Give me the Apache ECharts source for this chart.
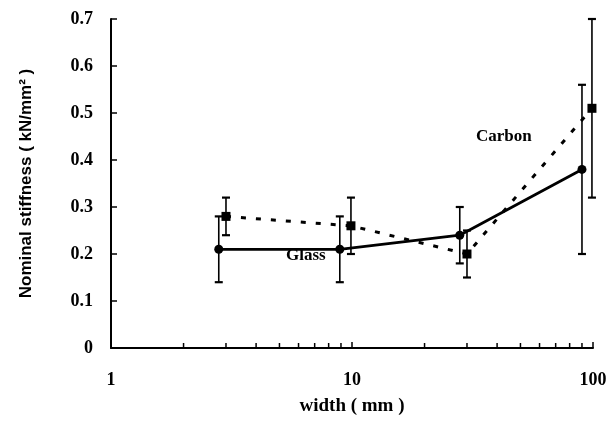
<!DOCTYPE html>
<html>
<head>
<meta charset="utf-8">
<script src="https://cdn.jsdelivr.net/npm/echarts@6/dist/echarts.min.js"></script>
<style>
  html, body { margin: 0; padding: 0; background: #fff; }
  #chart { width: 611px; height: 425px; }
</style>
</head>
<body>
<div id="chart"></div>
<script>
// width (mm) and stiffness values
var glassX = [2.8, 8.9, 28, 90];
var glassY = [0.21, 0.21, 0.24, 0.38];
var glassErr = [0.07, 0.07, 0.06, 0.18];

var carbonX = [3.0, 9.9, 30, 99];
var carbonY = [0.28, 0.26, 0.20, 0.51];
var carbonErr = [0.04, 0.06, 0.05, 0.19];

var minorTicks = [2, 3, 4, 5, 6, 7, 8, 9, 20, 30, 40, 50, 60, 70, 80, 90];

var serif = '"Liberation Serif", "DejaVu Serif", serif';

function pairs(xs, ys) {
  return xs.map(function (x, i) { return [x, ys[i]]; });
}
function errData(xs, ys, es) {
  return xs.map(function (x, i) { return [x, ys[i], es[i]]; });
}

// error bar: vertical line with small caps
function renderErr(params, api) {
  var x = api.value(0), y = api.value(1), e = api.value(2);
  var lo = api.coord([x, y - e]);
  var hi = api.coord([x, y + e]);
  var w = 4;
  var cap = { stroke: '#000', lineWidth: 2.2 };
  return {
    type: 'group',
    children: [
      { type: 'line', shape: { x1: lo[0], y1: lo[1], x2: hi[0], y2: hi[1] }, style: { stroke: '#000', lineWidth: 1.6 } },
      { type: 'line', shape: { x1: lo[0] - w, y1: lo[1], x2: lo[0] + w, y2: lo[1] }, style: cap },
      { type: 'line', shape: { x1: hi[0] - w, y1: hi[1], x2: hi[0] + w, y2: hi[1] }, style: cap }
    ]
  };
}

// minor ticks on the log x axis, pointing up
function renderTick(params, api) {
  var p = api.coord([api.value(0), 0]);
  return {
    type: 'line',
    shape: { x1: p[0], y1: p[1], x2: p[0], y2: p[1] - 5 },
    style: { stroke: '#000', lineWidth: 1.5 }
  };
}

var chart = echarts.init(document.getElementById('chart'));

var option = {
  animation: false,
  backgroundColor: '#fff',
  grid: { left: 111, right: 18, top: 19, bottom: 77 },
  xAxis: {
    type: 'log',
    logBase: 10,
    min: 1,
    max: 100,
    name: 'width ( mm )',
    nameLocation: 'middle',
    nameGap: 49,
    nameTextStyle: { fontFamily: serif, fontWeight: 'bold', fontSize: 19, color: '#000' },
    axisLine: { lineStyle: { color: '#000', width: 2 } },
    axisTick: { inside: true, length: 6, lineStyle: { color: '#000', width: 1.5 } },
    minorTick: { show: false },
    splitLine: { show: false },
    axisLabel: { margin: 23, fontFamily: serif, fontWeight: 'bold', fontSize: 18, color: '#000' }
  },
  yAxis: {
    type: 'value',
    min: 0,
    max: 0.7,
    interval: 0.1,
    name: 'Nominal stiffness ( kN/mm² )',
    nameLocation: 'middle',
    nameGap: 76,
    nameTextStyle: { fontFamily: '"Liberation Sans", Arial, sans-serif', fontWeight: 'bold', fontSize: 17, color: '#000' },
    axisLine: { show: true, lineStyle: { color: '#000', width: 2 } },
    axisTick: { show: true, inside: true, length: 6, lineStyle: { color: '#000', width: 1.5 } },
    splitLine: { show: false },
    axisLabel: {
      margin: 18,
      fontFamily: serif,
      fontWeight: 'bold',
      fontSize: 18,
      color: '#000',
      formatter: function (v) { return v === 0 ? '0' : v.toFixed(1); }
    }
  },
  graphic: [
    { type: 'text', left: 286, top: 247, style: { text: 'Glass', font: 'bold 17px ' + serif, fill: '#000' } },
    { type: 'text', left: 476, top: 128, style: { text: 'Carbon', font: 'bold 17px ' + serif, fill: '#000' } }
  ],
  series: [
    {
      name: 'Glass',
      type: 'line',
      data: pairs(glassX, glassY),
      symbol: 'circle',
      symbolSize: 9,
      itemStyle: { color: '#000' },
      lineStyle: { color: '#000', width: 2.8 },
      z: 3
    },
    {
      name: 'Carbon',
      type: 'line',
      data: pairs(carbonX, carbonY),
      symbol: 'rect',
      symbolSize: 9,
      itemStyle: { color: '#000' },
      lineStyle: { color: '#000', width: 3, type: [5, 10] },
      z: 3
    },
    {
      type: 'custom',
      renderItem: renderErr,
      data: errData(glassX, glassY, glassErr),
      z: 2
    },
    {
      type: 'custom',
      renderItem: renderErr,
      data: errData(carbonX, carbonY, carbonErr),
      z: 2
    },
    {
      type: 'custom',
      renderItem: renderTick,
      data: minorTicks.map(function (v) { return [v, 0]; }),
      z: 2
    }
  ]
};

chart.setOption(option);
</script>
</body>
</html>
